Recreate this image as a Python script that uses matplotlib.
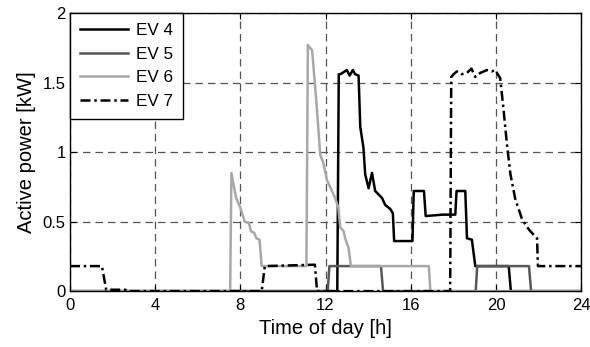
import matplotlib
matplotlib.use('Agg')
import matplotlib.pyplot as plt

plt.rcParams['font.family'] = ['Liberation Sans', 'DejaVu Sans']

""" Data (hours, kW) """

ev4_t = [0, 12.55, 12.62, 12.7, 13.0, 13.13, 13.28, 13.39, 13.55, 13.63, 13.78, 13.86,
         14.02, 14.18, 14.33, 14.65, 14.8, 15.04, 15.16, 15.22, 16.08, 16.14, 16.62, 16.7,
         17.5, 18.09, 18.15, 18.56, 18.64, 18.87, 19.03, 20.6, 20.7, 24]
ev4_p = [0, 0, 1.56, 1.56, 1.59, 1.55, 1.59, 1.56, 1.55, 1.18, 1.03, 0.84,
         0.74, 0.85, 0.72, 0.67, 0.62, 0.59, 0.56, 0.36, 0.36, 0.72, 0.72, 0.54,
         0.55, 0.55, 0.72, 0.72, 0.38, 0.37, 0.18, 0.18, 0, 0]

ev5_t = [0, 12.1, 12.18, 14.6, 14.7, 19.05, 19.12, 21.55, 21.65, 24]
ev5_p = [0, 0, 0.18, 0.18, 0, 0, 0.18, 0.18, 0, 0]

ev6_t = [0, 7.52, 7.58, 7.8, 8.0, 8.2, 8.4, 8.5, 8.65, 8.75, 8.9, 9.0, 11.1, 11.17,
         11.37, 11.59, 11.75, 11.9, 12.06, 12.3, 12.45, 12.6, 12.69, 12.85, 12.92,
         13.08, 13.19, 16.85, 16.92, 24]
ev6_p = [0, 0, 0.85, 0.67, 0.6, 0.5, 0.49, 0.43, 0.42, 0.38, 0.37, 0.18, 0.18, 1.77,
         1.73, 1.32, 0.98, 0.92, 0.8, 0.72, 0.67, 0.6, 0.46, 0.43, 0.38,
         0.31, 0.18, 0.18, 0, 0]

ev7_t = [0, 1.5, 1.7, 2.6, 2.7, 9.0, 9.15, 11.5, 11.6, 17.85, 17.9, 18.01, 18.17, 18.4,
         18.64, 18.85, 19.03, 19.27, 19.58, 19.8, 19.97, 20.2, 20.36, 20.52, 20.68,
         20.91, 21.22, 21.46, 21.62, 21.93, 21.97, 24]
ev7_p = [0.18, 0.18, 0.01, 0.01, 0, 0, 0.18, 0.19, 0, 0, 1.54, 1.56, 1.58, 1.56,
         1.57, 1.6, 1.54, 1.57, 1.59, 1.58, 1.59, 1.53, 1.3, 1.05, 0.84,
         0.66, 0.52, 0.46, 0.43, 0.38, 0.18, 0.18]

x_ticks = [0, 4, 8, 12, 16, 20, 24]
y_ticks = [0, 0.5, 1, 1.5, 2]
y_labels = ['0', '0.5', '1', '1.5', '2']

""" Plot """

fig = plt.figure(figsize=(5.9, 3.47), dpi=100)
ax = fig.add_axes([0.1186, 0.161, 0.8664, 0.8015])

ax.plot(ev4_t, ev4_p, color='black', lw=1.8, label='EV 4')
ax.plot(ev5_t, ev5_p, color='#585858', lw=1.8, label='EV 5')
ax.plot(ev6_t, ev6_p, color='#a8a8a8', lw=1.8, label='EV 6')
ax.plot(ev7_t, ev7_p, color='black', lw=1.8, ls=(0, (4, 1.5, 1, 1.5)), label='EV 7')

ax.set_xlim(0, 24)
ax.set_ylim(0, 2)
ax.set_xticks(x_ticks)
ax.set_yticks(y_ticks)
ax.set_yticklabels(y_labels)
ax.tick_params(direction='in', top=True, right=True, labelsize=12, length=4)
ax.tick_params(axis='x', pad=5)
ax.tick_params(axis='y', pad=3)
ax.grid(True, color='#555555', ls=(0, (6, 4)), lw=0.9)
for s in ax.spines.values():
    s.set_linewidth(1.0)

ax.set_xlabel('Time of day [h]', fontsize=14.5, labelpad=4)
ax.set_ylabel('Active power [kW]', fontsize=14.5, labelpad=5)

leg = ax.legend(loc='upper left', fontsize=12.3, handlelength=2.8, borderaxespad=0,
                fancybox=False, framealpha=1, edgecolor='black',
                labelspacing=0.5, handletextpad=0.45, borderpad=0.6)
leg.get_frame().set_linewidth(1.0)

fig.savefig('out.png', dpi=100)
